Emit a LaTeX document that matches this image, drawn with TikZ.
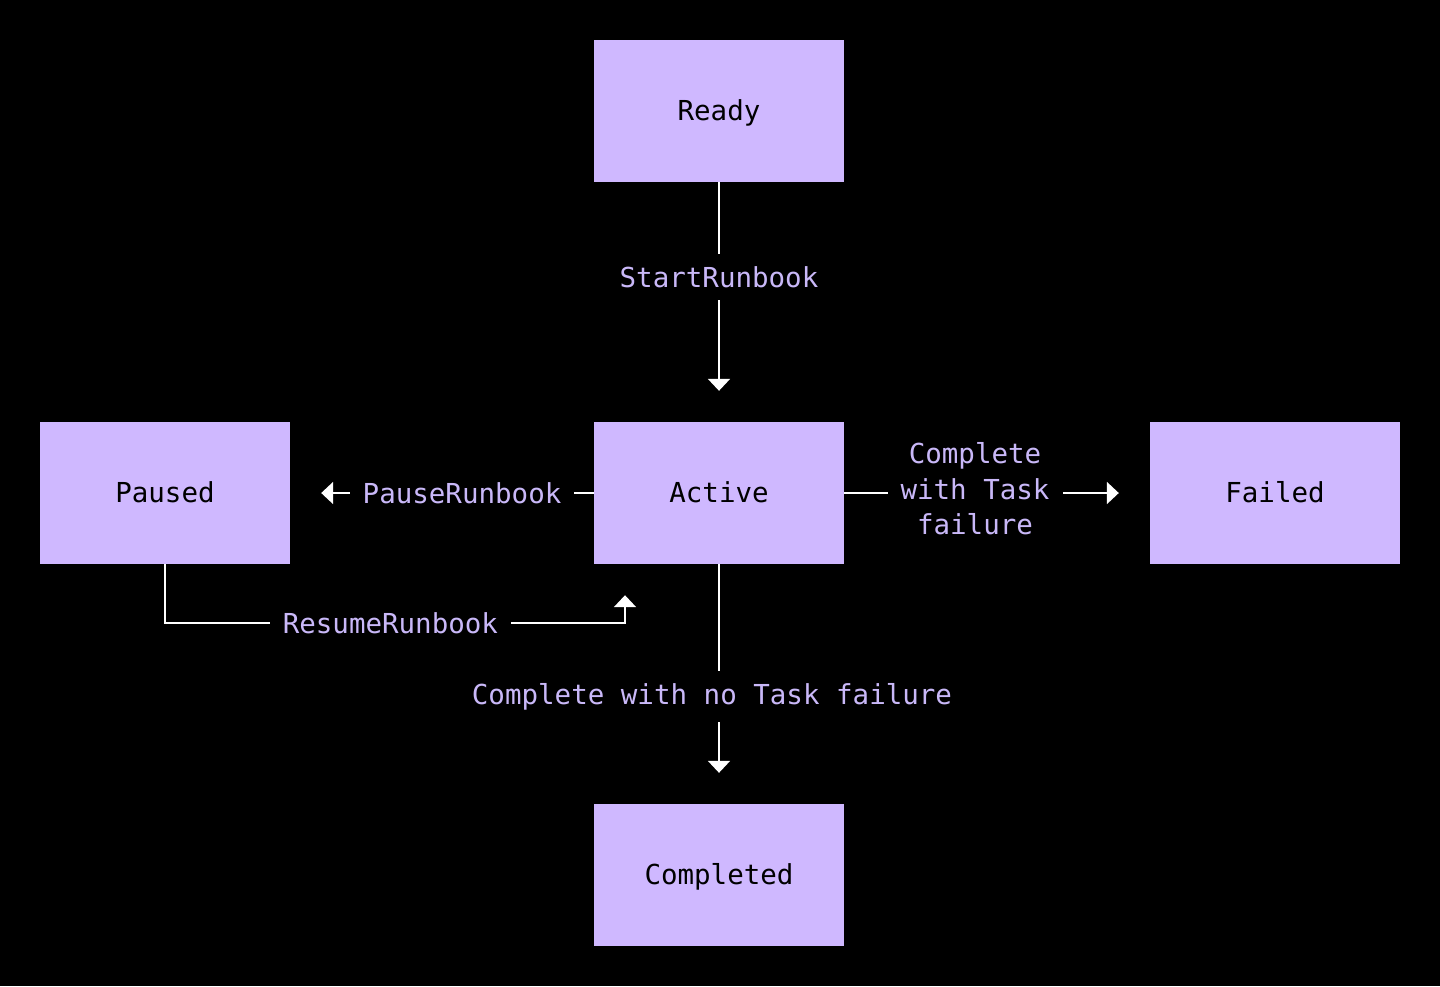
\documentclass[tikz,border=0pt]{standalone}
\usepackage{fontspec}
\newfontfamily\mono{DejaVu Sans Mono}
\usetikzlibrary{arrows.meta}
\definecolor{boxfill}{HTML}{CFB8FF}
\definecolor{lbl}{HTML}{C9B8F8}
\begin{document}
\begin{tikzpicture}[x=1pt,y=-1pt,
  state/.style={draw=none,fill=boxfill,minimum width=250pt,minimum height=142pt,inner sep=0pt,
    text height=24pt,text depth=6pt,
    font=\mono\fontsize{27.5}{33}\selectfont,text=black},
  arr/.style={draw=white,line width=2pt,-{Triangle[width=22pt,length=12pt]},shorten >=31pt},
  lab/.style={fill=black,text=lbl,inner xsep=13pt,inner ysep=12pt,
    font=\mono\fontsize{27.5}{35.5}\selectfont,align=center}]
\fill[black] (0,0) rectangle (1440,986);
\useasboundingbox (0,0) rectangle (1440,986);
\node[state] (ready) at (719,111) {Ready};
\node[state] (active) at (719,493) {Active};
\node[state] (paused) at (165,493) {Paused};
\node[state] (failed) at (1275,493) {Failed};
\node[state] (completed) at (719,875) {Completed};
\draw[arr] (ready.south) -- node[lab,pos=0.396] {StartRunbook} (active.north);
\draw[arr] (active.west) -- node[lab,pos=0.434] {PauseRunbook} (paused.east);
\draw[arr] (active.east) -- node[lab,pos=0.428,yshift=4pt] {Complete\\with Task\\failure} (failed.west);
\draw[arr] (active.south) -- node[lab,pos=0.54,xshift=-7pt,yshift=-3pt] {Complete with no Task failure} (completed.north);
\coordinate (rb) at ([xshift=-94pt]active.south);
\draw[arr] (paused.south) |- (165,623) -| node[lab,pos=0.245] {ResumeRunbook} (rb);
\end{tikzpicture}
\end{document}
